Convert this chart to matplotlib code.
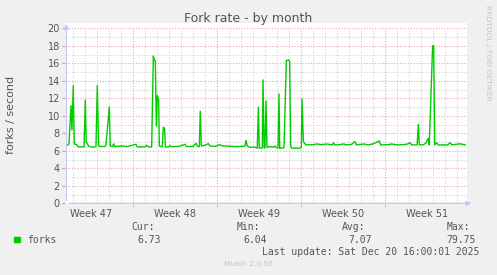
import numpy as np
import matplotlib
matplotlib.use('Agg')
from matplotlib import pyplot as plt

# time axis in days, 0 = Sun Nov 23 2025 00:00 (start of week 48)
days = [
    -5.56, -5.36, -5.19, -5.11, -5.00, -4.92, -4.72, -4.58, -4.10, -4.00,
    -3.92, -3.70, -3.33, -3.11, -3.00, -2.89, -2.64, -2.36, -2.28, -2.00,
    -1.92, -1.72, -1.64, -1.53, -0.90, -0.50, 0.22, 0.33, 1.00, 1.11,
    1.25, 1.53, 1.67, 1.75, 1.83, 1.92, 2.00, 2.11, 2.17, 2.30,
    2.42, 2.50, 2.61, 2.67, 2.92, 3.06, 3.19, 3.80, 4.31, 4.44,
    5.00, 5.22, 5.36, 5.50, 5.58, 5.67, 5.97, 6.25, 6.39, 6.80,
    7.22, 7.40, 7.78, 8.47, 9.00, 9.31, 9.39, 9.50, 9.72, 10.14,
    10.33, 10.42, 10.50, 10.69, 10.75, 10.81, 10.90, 10.97, 11.06, 11.14,
    11.39, 11.67, 11.81, 11.94, 12.06, 12.14, 12.20, 12.50, 12.56, 12.75,
    12.94, 13.03, 13.11, 13.19, 13.89, 14.00, 14.06, 14.17, 14.31, 14.44,
    15.00, 15.28, 15.70, 16.11, 16.40, 16.60, 16.67, 16.80, 17.20, 17.50,
    17.80, 18.20, 18.47, 18.60, 19.20, 19.60, 20.00, 20.50, 20.60, 21.30,
    21.50, 22.00, 22.70, 23.06, 23.20, 23.65, 23.75, 23.83, 24.20, 24.40,
    24.58, 24.66, 24.94, 25.03, 25.11, 25.28, 25.40, 26.20, 26.39, 26.55,
    27.20, 27.67,
]
forks = [
    6.60, 6.78, 11.16, 8.38, 13.45, 6.80, 6.70, 6.44, 6.44, 11.80,
    7.00, 6.50, 6.40, 6.48, 13.45, 6.55, 6.48, 6.50, 6.63, 11.00,
    6.55, 6.50, 6.78, 6.48, 6.55, 6.48, 6.74, 6.44, 6.45, 6.63,
    6.44, 6.44, 16.84, 16.38, 16.30, 8.84, 12.30, 11.81, 6.55, 6.48,
    6.48, 8.69, 8.53, 6.44, 6.44, 6.59, 6.48, 6.50, 6.74, 6.48,
    6.50, 6.86, 6.48, 6.48, 10.51, 6.55, 6.63, 6.82, 6.55, 6.50,
    6.70, 6.55, 6.55, 6.48, 6.50, 6.55, 7.20, 6.55, 6.40, 6.40,
    6.30, 10.97, 6.29, 6.33, 6.33, 14.10, 6.33, 6.33, 11.70, 6.40,
    6.48, 6.40, 6.55, 6.33, 6.33, 12.50, 6.29, 6.33, 6.40, 16.30,
    16.38, 16.20, 6.55, 6.30, 6.30, 6.40, 11.90, 7.05, 6.78, 6.67,
    6.70, 6.78, 6.70, 6.78, 6.72, 6.67, 6.93, 6.67, 6.70, 6.78,
    6.67, 6.74, 7.05, 6.67, 6.78, 6.67, 6.80, 7.12, 6.67, 6.70,
    6.78, 6.67, 6.72, 6.90, 6.67, 6.67, 9.03, 6.67, 6.70, 6.93,
    7.43, 6.67, 18.00, 18.00, 6.67, 6.93, 6.67, 6.67, 6.93, 6.67,
    6.80, 6.67,
]

week_pos = [-3.5, 3.5, 10.5, 17.5, 24.5]
week_labels = ['Week 47', 'Week 48', 'Week 49', 'Week 50', 'Week 51']
week_bounds = [0, 7, 14, 21]
y_ticks = list(range(0, 21, 2))

legend_cols = ['Cur:', 'Min:', 'Avg:', 'Max:']
legend_vals = ['6.73', '6.04', '7.07', '79.75']

W, H = 497, 275
fig = plt.figure(figsize=(W / 100, H / 100), dpi=100, facecolor='#F0F0F0')
ax = fig.add_axes([65 / W, 1 - 204 / H, (467.3 - 65) / W, (204 - 23) / H])
ax.set_facecolor('white')
x0, x1 = -5.69, 27.83
ax.set_xlim(x0, x1)
ax.set_ylim(-0.08, 20.6)
for s in ax.spines.values():
    s.set_visible(False)

xaxis_at = -5.58
# grid
for v in range(1, 21):
    c = '#E4A8A8' if v % 2 == 0 else '#D4D4D4'
    ax.hlines(v, xaxis_at, x1, colors=c, lw=0.8, linestyles=(0, (1, 1.5)), zorder=1)
for d in range(-5, 28):
    c = '#E4A8A8' if d in week_bounds else '#D4D4D4'
    ax.vlines(d, 0, 20, colors=c, lw=0.8, linestyles=(0, (1, 1.5)), zorder=1)

ax.plot(days, forks, color='#00CC00', lw=1.0, zorder=3)

# axis lines with arrows
ac = '#C4C4F4'
ax.annotate('', xy=(xaxis_at, 20.8), xytext=(xaxis_at, -0.05),
            arrowprops=dict(arrowstyle='-|>', color=ac, lw=0.9, mutation_scale=7),
            annotation_clip=False, zorder=4)
ax.annotate('', xy=(28.4, 0), xytext=(xaxis_at, 0),
            arrowprops=dict(arrowstyle='-|>', color=ac, lw=0.9, mutation_scale=7),
            annotation_clip=False, zorder=4)

ax.set_yticks(y_ticks)
ax.set_yticklabels([str(v) for v in y_ticks])
ax.set_xticks(week_pos)
ax.set_xticklabels(week_labels)
ax.tick_params(axis='y', length=2, color='#D0A0A0', pad=1.6, labelsize=7, labelcolor='#555555')
ax.tick_params(axis='x', length=0, pad=3.5, labelsize=7, labelcolor='#555555')
ax.set_xticks(week_bounds, minor=True)
ax.tick_params(axis='x', which='minor', length=2, color='#E4A8A8', direction='out')

txt = '#555555'
fig.text(248 / W, 1 - 18.5 / H, 'Fork rate - by month', ha='center', va='center',
         fontsize=9, color=txt)
fig.text(10.8 / W, 1 - 115.3 / H, 'forks / second', rotation=90, ha='center',
         va='center', fontsize=8, color=txt)
fig.text(488.3 / W, 1 - 5 / H, 'RRDTOOL / TOBI OETIKER', rotation=270, ha='center',
         va='top', fontsize=5.4, color='#C4C4C4')

mono = 'DejaVu Sans Mono'
fig.patches.append(plt.Rectangle((14 / W, 1 - 242.3 / H), 5.5 / W, 5.5 / H,
                                 transform=fig.transFigure, color='#00CC00'))
fig.text(26.7 / W, 1 - 240 / H, 'forks', family=mono, fontsize=7, color=txt, va='center')
col_x = [131.7, 236.7, 342.3, 446.7]
val_x = [137.3, 243.0, 348.3, 446.7]
for cx, vx, lab, val in zip(col_x, val_x, legend_cols, legend_vals):
    fig.text(cx / W, 1 - 227.3 / H, lab, family=mono, fontsize=7, color=txt, va='center')
    fig.text(vx / W, 1 - 240 / H, val, family=mono, fontsize=7, color=txt, va='center')
fig.text(261.7 / W, 1 - 251.7 / H, 'Last update: Sat Dec 20 16:00:01 2025',
         family=mono, fontsize=7, color=txt, va='center')
fig.text(248 / W, 1 - 264 / H, 'Munin 2.0.56', ha='center', va='center',
         fontsize=5.4, color='#C4C4C4')

fig.savefig('out.png', dpi=100, facecolor=fig.get_facecolor())
